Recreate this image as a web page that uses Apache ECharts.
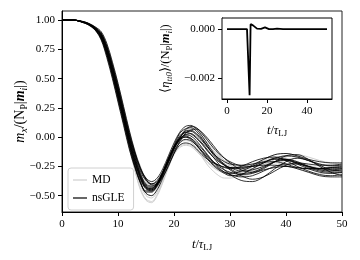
<!DOCTYPE html>
<html>
<head>
<meta charset="utf-8">
<script src="https://cdn.jsdelivr.net/npm/echarts@6/dist/echarts.min.js"></script>
<style>html,body{margin:0;padding:0;background:#fff}#c{width:360px;height:260px}</style>
</head>
<body>
<div id="c"></div>
<script>
// time grid (t / tau_LJ)
const tGrid = [0,2,4,5,6,7,8,9,10,11,12,13,14,15,16,17,18,19,20,21,22,23,24,25,26,27,28,29,30,32,34,36,38,40,42,44,46,48,50];

// MD runs (light grey)
const mdRuns = [
 [1,1,0.977,0.955,0.915,0.845,0.71,0.53,0.33,0.12,-0.09,-0.28,-0.44,-0.53,-0.55,-0.49,-0.38,-0.25,-0.13,-0.05,-0.03,-0.04,-0.09,-0.15,-0.21,-0.25,-0.28,-0.295,-0.30,-0.29,-0.25,-0.20,-0.17,-0.18,-0.21,-0.24,-0.26,-0.26,-0.26],
 [1,1,0.985,0.966,0.937,0.89,0.785,0.625,0.44,0.24,0.04,-0.14,-0.28,-0.38,-0.42,-0.40,-0.33,-0.22,-0.11,-0.01,0.05,0.08,0.06,0.01,-0.05,-0.11,-0.17,-0.21,-0.24,-0.275,-0.28,-0.24,-0.19,-0.16,-0.17,-0.20,-0.23,-0.24,-0.24],
 [1,1,0.98,0.96,0.925,0.86,0.735,0.56,0.36,0.15,-0.06,-0.25,-0.41,-0.50,-0.52,-0.47,-0.37,-0.25,-0.14,-0.08,-0.06,-0.07,-0.11,-0.16,-0.21,-0.25,-0.28,-0.31,-0.32,-0.33,-0.31,-0.26,-0.21,-0.19,-0.21,-0.25,-0.28,-0.29,-0.29],
 [1,1,0.98,0.96,0.928,0.872,0.75,0.58,0.39,0.19,-0.02,-0.20,-0.36,-0.45,-0.47,-0.43,-0.34,-0.22,-0.11,-0.03,0.01,0.02,-0.01,-0.06,-0.12,-0.17,-0.21,-0.23,-0.245,-0.25,-0.23,-0.19,-0.15,-0.14,-0.16,-0.20,-0.25,-0.28,-0.28],
 [1,1,0.975,0.952,0.91,0.835,0.695,0.515,0.32,0.12,-0.08,-0.26,-0.40,-0.48,-0.50,-0.44,-0.34,-0.22,-0.11,-0.04,-0.02,-0.04,-0.10,-0.17,-0.24,-0.29,-0.33,-0.35,-0.35,-0.32,-0.27,-0.23,-0.22,-0.24,-0.27,-0.30,-0.31,-0.31,-0.31],
 [1,1,0.982,0.962,0.93,0.88,0.77,0.60,0.41,0.21,0.01,-0.17,-0.32,-0.42,-0.45,-0.42,-0.34,-0.23,-0.12,-0.03,0.03,0.05,0.03,-0.02,-0.07,-0.12,-0.16,-0.20,-0.22,-0.26,-0.27,-0.25,-0.21,-0.19,-0.18,-0.20,-0.23,-0.25,-0.25],
 [1,1,0.98,0.957,0.918,0.852,0.72,0.54,0.34,0.13,-0.08,-0.28,-0.45,-0.54,-0.56,-0.50,-0.39,-0.26,-0.15,-0.09,-0.07,-0.08,-0.12,-0.17,-0.22,-0.26,-0.29,-0.305,-0.31,-0.30,-0.27,-0.23,-0.21,-0.20,-0.22,-0.25,-0.27,-0.27,-0.27],
 [1,1,0.986,0.968,0.94,0.90,0.80,0.645,0.46,0.26,0.06,-0.11,-0.25,-0.35,-0.40,-0.39,-0.33,-0.23,-0.12,-0.02,0.05,0.09,0.08,0.04,-0.02,-0.09,-0.15,-0.20,-0.24,-0.285,-0.29,-0.26,-0.21,-0.17,-0.15,-0.17,-0.20,-0.22,-0.23]
];

// nsGLE runs (black)
const nsgleRuns = [
 [1,1,0.98,0.96,0.925,0.865,0.74,0.57,0.38,0.18,-0.02,-0.19,-0.33,-0.42,-0.44,-0.40,-0.31,-0.20,-0.09,-0.01,0.04,0.03,-0.01,-0.06,-0.12,-0.17,-0.21,-0.24,-0.26,-0.29,-0.28,-0.25,-0.21,-0.20,-0.22,-0.25,-0.27,-0.27,-0.27],
 [1,1,0.975,0.955,0.915,0.84,0.70,0.52,0.32,0.12,-0.08,-0.25,-0.38,-0.47,-0.47,-0.41,-0.31,-0.19,-0.09,-0.02,0.00,-0.02,-0.07,-0.13,-0.19,-0.24,-0.28,-0.31,-0.33,-0.32,-0.27,-0.22,-0.18,-0.19,-0.23,-0.27,-0.30,-0.31,-0.30],
 [1,1,0.985,0.965,0.935,0.89,0.78,0.62,0.44,0.24,0.04,-0.13,-0.27,-0.36,-0.40,-0.38,-0.31,-0.21,-0.10,-0.01,0.06,0.09,0.08,0.03,-0.03,-0.09,-0.14,-0.18,-0.21,-0.245,-0.25,-0.22,-0.18,-0.16,-0.17,-0.20,-0.23,-0.245,-0.24],
 [1,1,0.98,0.96,0.93,0.875,0.755,0.59,0.40,0.20,0.00,-0.17,-0.31,-0.40,-0.42,-0.39,-0.30,-0.19,-0.08,0.01,0.05,0.06,0.03,-0.02,-0.08,-0.14,-0.19,-0.24,-0.28,-0.33,-0.36,-0.34,-0.29,-0.24,-0.22,-0.23,-0.24,-0.24,-0.23],
 [1,1,0.98,0.958,0.92,0.855,0.725,0.55,0.36,0.16,-0.04,-0.21,-0.35,-0.44,-0.46,-0.42,-0.33,-0.22,-0.12,-0.05,-0.02,-0.03,-0.07,-0.12,-0.17,-0.21,-0.24,-0.26,-0.27,-0.25,-0.21,-0.18,-0.17,-0.20,-0.25,-0.29,-0.32,-0.33,-0.32],
 [1,1,0.982,0.963,0.93,0.883,0.77,0.605,0.42,0.22,0.02,-0.14,-0.27,-0.35,-0.38,-0.35,-0.27,-0.16,-0.05,0.04,0.09,0.10,0.07,0.01,-0.06,-0.13,-0.19,-0.23,-0.27,-0.31,-0.30,-0.26,-0.21,-0.19,-0.21,-0.25,-0.28,-0.29,-0.28],
 [1,1,0.977,0.955,0.915,0.845,0.71,0.535,0.34,0.14,-0.06,-0.24,-0.39,-0.48,-0.50,-0.45,-0.35,-0.24,-0.14,-0.07,-0.05,-0.06,-0.10,-0.15,-0.19,-0.22,-0.24,-0.255,-0.26,-0.26,-0.25,-0.24,-0.24,-0.25,-0.26,-0.27,-0.27,-0.26,-0.26],
 [1,1,0.98,0.96,0.925,0.865,0.74,0.57,0.38,0.18,-0.02,-0.20,-0.34,-0.43,-0.45,-0.41,-0.32,-0.21,-0.10,-0.02,0.02,0.03,0.00,-0.05,-0.11,-0.17,-0.23,-0.28,-0.32,-0.37,-0.38,-0.34,-0.27,-0.21,-0.18,-0.20,-0.24,-0.28,-0.29],
 [1,1,0.985,0.967,0.94,0.90,0.80,0.64,0.46,0.26,0.06,-0.12,-0.26,-0.36,-0.41,-0.40,-0.34,-0.25,-0.14,-0.04,0.03,0.06,0.07,0.04,-0.01,-0.07,-0.13,-0.18,-0.22,-0.28,-0.30,-0.27,-0.21,-0.16,-0.15,-0.19,-0.25,-0.30,-0.33],
 [1,1,0.975,0.95,0.91,0.83,0.68,0.50,0.30,0.10,-0.10,-0.26,-0.39,-0.46,-0.46,-0.40,-0.30,-0.18,-0.08,-0.01,0.01,-0.01,-0.06,-0.12,-0.18,-0.23,-0.27,-0.30,-0.31,-0.29,-0.25,-0.215,-0.21,-0.23,-0.26,-0.27,-0.27,-0.26,-0.25],
 [1,1,0.98,0.96,0.928,0.873,0.755,0.59,0.40,0.20,0.00,-0.17,-0.32,-0.41,-0.43,-0.40,-0.31,-0.20,-0.09,0.00,0.04,0.05,0.02,-0.03,-0.09,-0.14,-0.18,-0.21,-0.23,-0.24,-0.23,-0.21,-0.19,-0.19,-0.22,-0.26,-0.29,-0.30,-0.30],
 [1,1,0.98,0.958,0.92,0.857,0.728,0.555,0.36,0.16,-0.04,-0.21,-0.34,-0.43,-0.44,-0.39,-0.30,-0.19,-0.09,-0.02,0.02,0.01,-0.03,-0.09,-0.15,-0.21,-0.26,-0.30,-0.32,-0.34,-0.33,-0.29,-0.25,-0.23,-0.23,-0.25,-0.27,-0.28,-0.27],
 [1,1,0.982,0.962,0.93,0.88,0.77,0.605,0.42,0.22,0.02,-0.15,-0.29,-0.37,-0.40,-0.37,-0.29,-0.18,-0.07,0.03,0.07,0.08,0.05,-0.01,-0.08,-0.15,-0.20,-0.24,-0.26,-0.27,-0.24,-0.19,-0.15,-0.14,-0.16,-0.19,-0.21,-0.22,-0.22],
 [1,1,0.978,0.956,0.918,0.85,0.715,0.54,0.345,0.145,-0.06,-0.23,-0.36,-0.44,-0.45,-0.40,-0.31,-0.20,-0.10,-0.03,0.00,-0.01,-0.05,-0.10,-0.16,-0.21,-0.25,-0.28,-0.30,-0.32,-0.31,-0.28,-0.26,-0.25,-0.27,-0.30,-0.33,-0.34,-0.34]
];

// inset: <eta_{tt0}> / (N_P |m_i|)
const insetT = [0,5,10,11,11.3,11.8,12.2,13,14,15,16,17,18,19,20,21,22,23,24,25,26,28,35,50];
const insetV = [0,0,0,0.00002,-0.00268,0.0002,0.00024,0.00015,0.00007,0.00002,-0.00002,0.00001,0.00005,0.00007,0.00005,0,-0.00003,0,0.00003,0.00002,0,0,0,0];

// tick labels
const mainXTicks = [0,10,20,30,40,50];
const mainYTicks = [-0.5,-0.25,0,0.25,0.5,0.75,1.0];
const insetXTicks = [0,20,40];
const insetYTicks = [-0.002,0];

const FONT = 'Liberation Serif';
const fmt = (d) => (v) => (v < 0 ? '\u2212' : '') + Math.abs(v).toFixed(d);
const rich = (fs) => ({
  it: {fontFamily: FONT, fontStyle: 'italic', fontSize: fs, color: '#000', lineHeight: fs + 4, verticalAlign: 'middle'},
  rm: {fontFamily: FONT, fontSize: fs, color: '#000', lineHeight: fs + 4, verticalAlign: 'middle'},
  bi: {fontFamily: FONT, fontStyle: 'italic', fontWeight: 'bold', fontSize: fs, color: '#000', lineHeight: fs + 4, verticalAlign: 'middle'},
  sub: {fontFamily: FONT, fontStyle: 'italic', fontSize: fs * 0.7, color: '#000', lineHeight: fs + 4, verticalAlign: 'bottom'},
  subr: {fontFamily: FONT, fontSize: fs * 0.7, color: '#000', lineHeight: fs + 4, verticalAlign: 'bottom'}
});

const series = [];
mdRuns.forEach((run) => {
  series.push({
    name: 'MD', type: 'line', xAxisIndex: 0, yAxisIndex: 0,
    data: tGrid.map((t, i) => [t, run[i]]),
    showSymbol: false, smooth: 0.35, color: '#cfcfcf',
    lineStyle: {width: 1, color: '#cfcfcf'}, z: 2
  });
});
nsgleRuns.forEach((run) => {
  series.push({
    name: 'nsGLE', type: 'line', xAxisIndex: 0, yAxisIndex: 0,
    data: tGrid.map((t, i) => [t, run[i]]),
    showSymbol: false, smooth: 0.35, color: '#000',
    lineStyle: {width: 0.8, color: '#000'}, z: 3
  });
});
series.push({
  name: 'inset', type: 'line', xAxisIndex: 1, yAxisIndex: 1,
  data: insetT.map((t, i) => [t, insetV[i]]),
  showSymbol: false, color: '#000', lineStyle: {width: 1.8, color: '#000'}, z: 5
});

const tickStyle = {show: true, inside: false, length: 4, lineStyle: {color: '#000', width: 1}};
const labelStyle = {color: '#000', fontFamily: FONT, fontSize: 11};

const option = {
  animation: false,
  backgroundColor: '#fff',
  grid: [
    {left: 62, right: 18, top: 11, bottom: 48, show: true, borderColor: '#222', borderWidth: 1, backgroundColor: 'transparent', containLabel: false, outerBoundsMode: 'none'},
    {left: 222, right: 28, top: 18, bottom: 161, show: true, borderColor: '#000', borderWidth: 1, backgroundColor: '#fff', z: 4, containLabel: false, outerBoundsMode: 'none'}
  ],
  legend: {
    data: ['MD', 'nsGLE'], orient: 'vertical', left: 68, top: 168,
    icon: 'rect', itemWidth: 14, itemHeight: 1.2, itemGap: 6,
    padding: [6, 9, 6, 5],
    backgroundColor: 'rgba(255,255,255,0.85)', borderColor: '#d0d0d0', borderWidth: 1, borderRadius: 3,
    textStyle: {fontFamily: FONT, fontSize: 11.5, color: '#000'},
    selectedMode: false
  },
  xAxis: [
    {
      type: 'value', gridIndex: 0, min: 0, max: 50,
      axisLine: {show: true, onZero: false, lineStyle: {color: '#000', width: 1}},
      axisTick: Object.assign({customValues: mainXTicks}, tickStyle),
      axisLabel: Object.assign({customValues: mainXTicks, margin: 7, formatter: (v) => String(v)}, labelStyle),
      splitLine: {show: false},
      name: '{it|t}{rm|/}{it|τ}{subr|LJ}', nameLocation: 'middle', nameGap: 24,
      nameTextStyle: {rich: rich(12.5)}
    },
    {
      type: 'value', gridIndex: 1, min: -2.5, max: 52.5,
      axisLine: {show: true, onZero: false, lineStyle: {color: '#000', width: 1}},
      axisTick: Object.assign({customValues: insetXTicks}, tickStyle),
      axisLabel: Object.assign({customValues: insetXTicks, margin: 7, formatter: (v) => String(v)}, labelStyle),
      splitLine: {show: false},
      name: '{it|t}{rm|/}{it|τ}{subr|LJ}', nameLocation: 'middle', nameGap: 23,
      nameTextStyle: {rich: rich(12.5)}
    }
  ],
  yAxis: [
    {
      type: 'value', gridIndex: 0, min: -0.64, max: 1.078,
      axisLine: {show: true, onZero: false, lineStyle: {color: '#000', width: 1}},
      axisTick: Object.assign({customValues: mainYTicks}, tickStyle),
      axisLabel: Object.assign({customValues: mainYTicks, margin: 7, formatter: fmt(2)}, labelStyle),
      splitLine: {show: false},
      name: '{it|m}{sub|x}{rm|/(N}{subr|P}{rm||}{bi|m}{sub|i}{rm||)}', nameLocation: 'middle', nameGap: 33,
      nameMoveOverlap: false,
      nameTextStyle: {rich: rich(14)}
    },
    {
      type: 'value', gridIndex: 1, min: -0.00283, max: 0.00045,
      axisLine: {show: true, onZero: false, lineStyle: {color: '#000', width: 1}},
      axisTick: Object.assign({customValues: insetYTicks}, tickStyle),
      axisLabel: Object.assign({customValues: insetYTicks, margin: 7, formatter: fmt(3)}, labelStyle),
      splitLine: {show: false},
      name: '{rm|⟨}{it|η}{sub|tt0}{rm|⟩/(N}{subr|P}{rm||}{bi|m}{sub|i}{rm||)}', nameLocation: 'middle', nameGap: 48,
      nameTextStyle: {rich: rich(12.5)}
    }
  ],
  series: series
};

const chart = echarts.init(document.getElementById('c'), null, {renderer: 'canvas', width: 360, height: 260});
chart.setOption(option);
</script>
</body>
</html>
